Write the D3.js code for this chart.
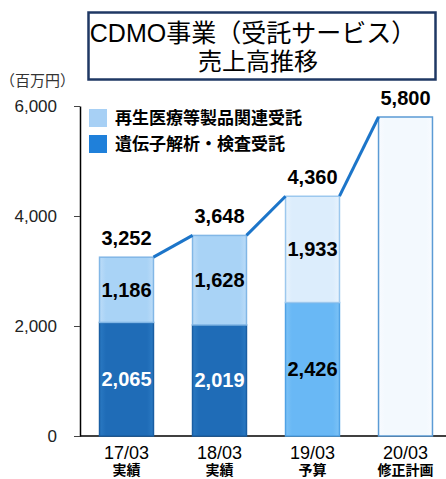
<!DOCTYPE html>
<html>
<head>
<meta charset="utf-8">
<script src="https://cdn.jsdelivr.net/npm/d3@7"></script>
<style>
  body { margin: 0; background: #fff; }
  svg { display: block; font-family: "Liberation Sans", "Noto Sans CJK JP", sans-serif; }
</style>
</head>
<body>
<div id="chart"></div>
<script>
// Values
const categories = ["17/03", "18/03", "19/03", "20/03"];
const subLabels  = ["実績", "実績", "予算", "修正計画"];
const geneValues  = [2065, 2019, 2426, null];   // 遺伝子解析・検査受託
const regenValues = [1186, 1628, 1933, null];   // 再生医療等製品関連受託
const totals      = [3252, 3648, 4360, 5800];
const yTicks      = [0, 2000, 4000, 6000];
const legendNames = ["再生医療等製品関連受託", "遺伝子解析・検査受託"];

const W = 446, H = 479;

const svg = d3.select("#chart")
    .append("svg")
    .attr("width", W)
    .attr("height", H);

const defs = svg.append("defs");
// bar fills with a little edge shading, like the original 3D look
function grad(id, mid, edge) {
    const g = defs.append("linearGradient").attr("id", id)
        .attr("x1", "0%").attr("x2", "100%").attr("y1", "0%").attr("y2", "0%");
    g.append("stop").attr("offset", "0%").attr("stop-color", edge);
    g.append("stop").attr("offset", "12%").attr("stop-color", mid);
    g.append("stop").attr("offset", "88%").attr("stop-color", mid);
    g.append("stop").attr("offset", "100%").attr("stop-color", edge);
}
grad("darkBlue", "#1f6cb7", "#2a79c2");
grad("lightBlue", "#a9d3f6", "#bcdcf8");
grad("midBlue", "#69b8f5", "#7cc2f6");
grad("paleBlue", "#dcedfc", "#e8f3fd");
grad("whiteBlue", "#f3f9fe", "#f8fbff");

const x = d3.scaleBand()
    .domain(categories)
    .range([80, 452])
    .paddingInner(0.42)
    .paddingOuter(0.21);

const y = d3.scaleLinear()
    .domain([0, 6000])
    .range([436, 106]);

// title box
svg.append("rect")
    .attr("x", 88.5).attr("y", 12.5)
    .attr("width", 347).attr("height", 67)
    .attr("fill", "#fff")
    .attr("stroke", "#1f3864")
    .attr("stroke-width", 2.5);
svg.append("text")
    .attr("x", 253).attr("y", 42)
    .attr("text-anchor", "middle")
    .style("font-size", "25px")
    .text("CDMO事業（受託サービス）");
svg.append("text")
    .attr("x", 258).attr("y", 70)
    .attr("text-anchor", "middle")
    .style("font-size", "24px")
    .text("売上高推移");

// unit
svg.append("text")
    .attr("x", 0).attr("y", 86)
    .style("font-size", "15px")
    .attr("fill", "#333")
    .text("（百万円）");

// y axis
const yAxis = svg.append("g")
    .attr("transform", "translate(80,0)")
    .call(d3.axisLeft(y).tickValues(yTicks).tickSize(6).tickPadding(17).tickSizeOuter(0)
        .tickFormat(d3.format(",")));
yAxis.selectAll("text").style("font-size", "17px").attr("fill", "#222");
yAxis.select(".domain").attr("stroke", "#000").attr("stroke-width", 1.5);
yAxis.selectAll(".tick line").attr("stroke", "#444");

// baseline
svg.append("line")
    .attr("x1", 80).attr("x2", W)
    .attr("y1", y(0)).attr("y2", y(0))
    .attr("stroke", "#000").attr("stroke-width", 1.5);

// segments
const segs = [];
categories.forEach((c, i) => {
    if (geneValues[i] != null) {
        segs.push({ c, i, y0: 0, y1: geneValues[i], v: geneValues[i], kind: "gene" });
        segs.push({ c, i, y0: geneValues[i], y1: geneValues[i] + regenValues[i], v: regenValues[i], kind: "regen" });
    } else {
        segs.push({ c, i, y0: 0, y1: totals[i], v: null, kind: "plan" });
    }
});

function fillOf(d) {
    if (d.kind === "plan") return "url(#whiteBlue)";
    if (d.i === 2) return d.kind === "gene" ? "url(#midBlue)" : "url(#paleBlue)";
    return d.kind === "gene" ? "url(#darkBlue)" : "url(#lightBlue)";
}
function strokeOf(d) {
    if (d.kind === "plan") return "#5b9bd5";
    if (d.i === 2) return d.kind === "gene" ? "#4fa2e6" : "#9cc8ee";
    return d.kind === "gene" ? "#195ea3" : "#82b7e6";
}

svg.selectAll("rect.seg")
    .data(segs)
    .enter()
    .append("rect")
    .attr("class", "seg")
    .attr("x", d => x(d.c))
    .attr("width", x.bandwidth())
    .attr("y", d => y(d.y1))
    .attr("height", d => y(d.y0) - y(d.y1))
    .attr("fill", fillOf)
    .attr("stroke", strokeOf)
    .attr("stroke-width", 1.5);

// segment labels
svg.selectAll("text.seglab")
    .data(segs.filter(d => d.v != null))
    .enter()
    .append("text")
    .attr("class", "seglab")
    .attr("x", d => x(d.c) + x.bandwidth() / 2)
    .attr("y", d => (y(d.y0) + y(d.y1)) / 2 + 7)
    .attr("text-anchor", "middle")
    .style("font-size", "20px")
    .style("font-weight", "bold")
    .attr("fill", d => (d.kind === "gene" && d.i < 2) ? "#fff" : "#000")
    .text(d => d3.format(",")(d.v));

// connecting line over the bar tops
const pts = [];
categories.forEach((c, i) => {
    if (i > 0) pts.push([x(c), y(totals[i])]);
    if (i < categories.length - 1) pts.push([x(c) + x.bandwidth(), y(totals[i])]);
});
for (let k = 0; k < pts.length; k += 2) {
    svg.append("line")
        .attr("x1", pts[k][0]).attr("y1", pts[k][1])
        .attr("x2", pts[k + 1][0]).attr("y2", pts[k + 1][1])
        .attr("stroke", "#1c75c9")
        .attr("stroke-width", 3);
}

// totals
svg.selectAll("text.total")
    .data(categories)
    .enter()
    .append("text")
    .attr("class", "total")
    .attr("x", d => x(d) + x.bandwidth() / 2)
    .attr("y", (d, i) => y(totals[i]) - 12)
    .attr("text-anchor", "middle")
    .style("font-size", "20px")
    .style("font-weight", "bold")
    .text((d, i) => d3.format(",")(totals[i]));

// x labels
svg.selectAll("text.cat")
    .data(categories)
    .enter()
    .append("text")
    .attr("class", "cat")
    .attr("x", d => x(d) + x.bandwidth() / 2)
    .attr("y", 459)
    .attr("text-anchor", "middle")
    .style("font-size", "18px")
    .text(d => d);
svg.selectAll("text.sub")
    .data(categories)
    .enter()
    .append("text")
    .attr("class", "sub")
    .attr("x", d => x(d) + x.bandwidth() / 2)
    .attr("y", 475)
    .attr("text-anchor", "middle")
    .style("font-size", "14px")
    .style("font-weight", "bold")
    .text((d, i) => subLabels[i]);

// legend
const legColors = ["#a7d0f5", "#1f80da"];
const legend = svg.append("g").attr("transform", "translate(89,109)");
legend.selectAll("rect")
    .data(legendNames)
    .enter()
    .append("rect")
    .attr("x", 0)
    .attr("y", (d, i) => i * 26)
    .attr("width", 18)
    .attr("height", 18)
    .attr("fill", (d, i) => legColors[i]);
legend.selectAll("text")
    .data(legendNames)
    .enter()
    .append("text")
    .attr("x", 26)
    .attr("y", (d, i) => i * 26 + 15)
    .style("font-size", "17px")
    .style("font-weight", "bold")
    .text(d => d);
</script>
</body>
</html>
